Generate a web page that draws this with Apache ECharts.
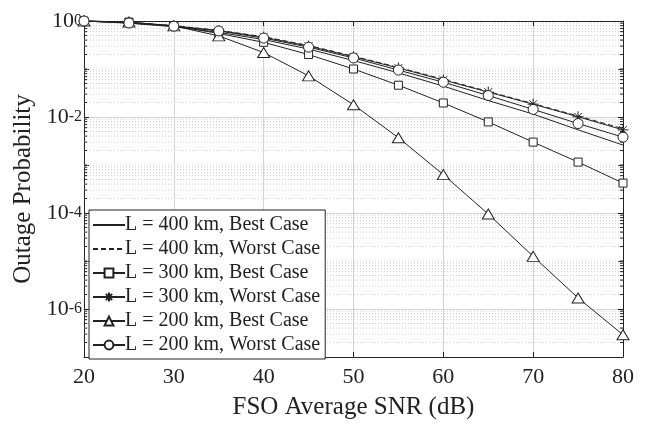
<!DOCTYPE html>
<html>
<head>
<meta charset="utf-8">
<script src="https://cdn.jsdelivr.net/npm/echarts@6/dist/echarts.min.js"></script>
<style>
  html, body { margin: 0; padding: 0; background: #fff; }
  #chart { width: 647px; height: 425px; }
</style>
</head>
<body>
<div id="chart"></div>
<script>
// FSO average SNR (dB)
const snr = [20, 25, 30, 35, 40, 45, 50, 55, 60, 65, 70, 75, 80]

// outage probability
const l400Best  = [1, 0.90, 0.76, 0.58, 0.41, 0.26, 0.15, 0.083, 0.044, 0.022, 0.0115, 0.0054, 0.0026]
const l400Worst = [1, 0.93, 0.80, 0.64, 0.47, 0.31, 0.185, 0.108, 0.061, 0.034, 0.019, 0.0105, 0.0057]
const l300Best  = [1, 0.95, 0.79, 0.55, 0.36, 0.20, 0.10, 0.046, 0.0196, 0.0079, 0.0030, 0.00115, 0.00042]
const l300Worst = [1, 0.92, 0.79, 0.63, 0.46, 0.30, 0.18, 0.105, 0.059, 0.033, 0.0185, 0.0101, 0.0054]
const l200Best  = [1, 0.95, 0.79, 0.49, 0.22, 0.072, 0.018, 0.0037, 0.00063, 0.000095, 0.0000125, 0.0000017, 0.00000029]
const l200Worst = [1, 0.91, 0.78, 0.62, 0.44, 0.285, 0.17, 0.095, 0.053, 0.028, 0.0144, 0.0073, 0.0038]

const names = [
  'L = 400 km, Best Case',
  'L = 400 km, Worst Case',
  'L = 300 km, Best Case',
  'L = 300 km, Worst Case',
  'L = 200 km, Best Case',
  'L = 200 km, Worst Case'
]

// y tick labels (powers of ten that get a label)
const labeledExps = [0, -2, -4, -6]

const font = 'Liberation Serif, Times New Roman, serif'
const ink = '#222'
const gridGray = '#d4d4d4'
const clear = 'rgba(0,0,0,0)'

const pairs = ys => snr.map((x, i) => [x, ys[i]])

// minor (log) grid positions: 2..9 x 10^k plus the odd decades
const minorVals = []
for (let k = -7; k < 0; k++) {
  for (let m = 2; m <= 9; m++) minorVals.push(m * Math.pow(10, k))
  if (k % 2 !== 0 && k !== -7) minorVals.push(Math.pow(10, k))
}

const star = 'path://M10,0L10,20M0,10L20,10M2.9,2.9L17.1,17.1M2.9,17.1L17.1,2.9'

function lineSeries(name, ys, symbol, size, dash) {
  // no-marker series keep an invisible symbol so the legend shows only the line
  const plain = !symbol
  return {
    name: name,
    type: 'line',
    data: pairs(ys),
    symbol: plain ? 'circle' : symbol,
    symbolSize: plain ? 0 : size,
    showSymbol: !plain,
    clip: false,
    lineStyle: { color: ink, width: 1, type: dash || 'solid' },
    itemStyle: plain
      ? { color: clear, borderColor: clear, borderWidth: 0 }
      : { color: '#fff', borderColor: ink, borderWidth: 1 },
    emphasis: { disabled: true },
    z: 3
  }
}

const chart = echarts.init(document.getElementById('chart'))

const option = {
  animation: false,
  grid: { left: 84, right: 24, top: 19, bottom: 64 },
  legend: {
    data: names,
    orient: 'vertical',
    left: 89,
    top: 210,
    padding: [5, 5, 4, 3],
    itemGap: 4,
    itemWidth: 32,
    itemHeight: 11,
    backgroundColor: '#fff',
    borderColor: ink,
    borderWidth: 1,
    borderRadius: 0,
    selectedMode: false,
    textStyle: { fontFamily: font, fontSize: 20, color: ink, lineHeight: 20, padding: [0, 0, 0, -5] }
  },
  xAxis: [
    {
      type: 'value',
      min: 20,
      max: 80,
      interval: 10,
      name: 'FSO Average SNR (dB)',
      nameLocation: 'middle',
      nameGap: 38,
      nameTextStyle: { fontFamily: font, fontSize: 25, color: ink },
      axisLine: { lineStyle: { color: ink, width: 1 } },
      axisTick: { inside: true, length: 5, lineStyle: { color: ink } },
      axisLabel: { fontFamily: font, fontSize: 22, color: ink, margin: 9 },
      splitLine: { show: true, lineStyle: { color: gridGray, width: 1 } }
    },
    {
      type: 'value',
      position: 'top',
      min: 20,
      max: 80,
      interval: 10,
      axisLine: { lineStyle: { color: ink, width: 1 } },
      axisTick: { inside: true, length: 5, lineStyle: { color: ink } },
      axisLabel: { show: false },
      splitLine: { show: false }
    }
  ],
  yAxis: [
    {
      type: 'log',
      logBase: 10,
      min: 1e-7,
      max: 1,
      interval: 1,
      name: 'Outage Probability',
      nameLocation: 'middle',
      nameGap: 47,
      nameTextStyle: { fontFamily: font, fontSize: 25, color: ink },
      axisLine: { show: true, lineStyle: { color: ink, width: 1 } },
      axisTick: { show: true, inside: true, length: 5, lineStyle: { color: ink } },
      axisLabel: {
        margin: 2,
        formatter: v => {
          const e = Math.round(Math.log10(v))
          return labeledExps.indexOf(e) >= 0 ? '{b|10}{s|' + e + '}' : ''
        },
        rich: {
          b: { fontFamily: font, fontSize: 22, color: ink, lineHeight: 22, padding: [10, 0, 0, 0], verticalAlign: 'bottom' },
          s: { fontFamily: font, fontSize: 16, color: ink, lineHeight: 16, padding: [3, 0, 0, 0], verticalAlign: 'top' }
        }
      },
      splitLine: { show: true, lineStyle: { color: [clear, gridGray], width: 1 } }
    },
    {
      type: 'log',
      logBase: 10,
      position: 'right',
      min: 1e-7,
      max: 1,
      interval: 1,
      axisLine: { show: true, lineStyle: { color: ink, width: 1 } },
      axisTick: { show: true, inside: true, length: 5, lineStyle: { color: ink } },
      axisLabel: { show: false },
      splitLine: { show: false }
    }
  ],
  series: [
    {
      type: 'custom',
      silent: true,
      z: 1,
      data: minorVals.map(v => [20, v]),
      renderItem: (params, api) => {
        const v = api.value(1)
        const a = api.coord([20, v])
        const b = api.coord([80, v])
        return {
          type: 'group',
          children: [
            { type: 'line', shape: { x1: a[0], y1: a[1], x2: b[0], y2: b[1] },
              style: { stroke: '#cfcfcf', lineWidth: 1, lineDash: [1, 2] } },
            { type: 'line', shape: { x1: a[0], y1: a[1], x2: a[0] + 3, y2: a[1] },
              style: { stroke: ink, lineWidth: 1 } },
            { type: 'line', shape: { x1: b[0] - 3, y1: b[1], x2: b[0], y2: b[1] },
              style: { stroke: ink, lineWidth: 1 } }
          ]
        }
      }
    },
    lineSeries(names[0], l400Best),
    lineSeries(names[1], l400Worst, null, 0, [5, 3]),
    lineSeries(names[2], l300Best, 'rect', 8),
    lineSeries(names[3], l300Worst, star, 11),
    lineSeries(names[4], l200Best, 'triangle', [12, 10]),
    lineSeries(names[5], l200Worst, 'circle', 10)
  ]
}

chart.setOption(option)
</script>
</body>
</html>
